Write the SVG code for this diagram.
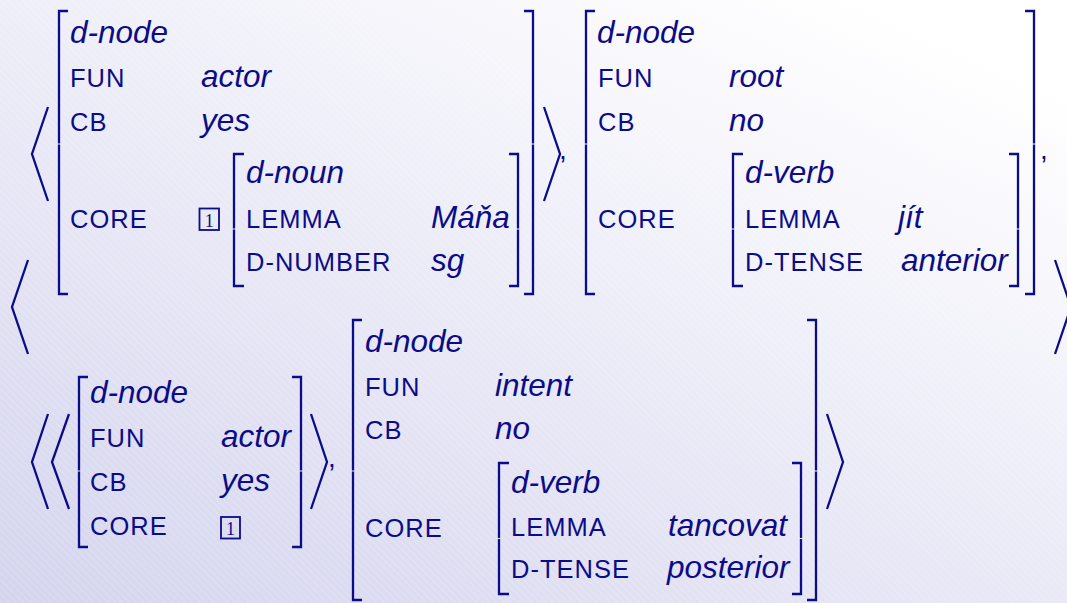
<svg xmlns="http://www.w3.org/2000/svg" width="1067" height="603" viewBox="0 0 1067 603">
  <defs>
    <linearGradient id="bg" x1="0" y1="1" x2="0.8" y2="0">
      <stop offset="0" stop-color="#d4d4ee"/>
      <stop offset="1" stop-color="#ffffff"/>
    </linearGradient>
    <pattern id="hatch" width="5" height="5" patternUnits="userSpaceOnUse" patternTransform="rotate(-45)">
      <line x1="0" y1="0" x2="0" y2="5" stroke="#ffffff" stroke-width="1" stroke-opacity="0.35"/>
    </pattern>
    <style>
      .ln { fill: none; stroke: #0c0c88; stroke-width: 2.3; stroke-linejoin: miter; }
      .val { font-family: "Liberation Sans", Arial, sans-serif; font-style: italic; font-size: 31.5px; fill: #0c0c88; }
      .att { font-family: "Liberation Sans", Arial, sans-serif; font-size: 25.5px; letter-spacing: 1px; fill: #0c0c88; }
      .cm { font-family: "Liberation Sans", Arial, sans-serif; font-size: 28px; fill: #0c0c88; }
      .tagbox { fill: none; stroke: #0c0c88; stroke-width: 1.8; }
      .tag { font-family: "Liberation Serif", "Times New Roman", serif; font-size: 18px; fill: #0c0c88; text-anchor: middle; }
    </style>
  </defs>

  <rect width="1067" height="603" fill="url(#bg)"/>
  <rect width="1067" height="603" fill="url(#hatch)"/>

  <!-- outer list delimiters -->
  <g id="outer-list">
    <path class="ln" d="M28,260 L12,307 L28,354"/>
    <path class="ln" d="M1055,260 L1071,307 L1055,354"/>
  </g>

  <!-- first pair: < [actor] >, [root] -->
  <g id="pair-1">
    <path class="ln" d="M48,107 L32,154 L48,201"/>
    <path class="ln" d="M544,107 L560,154 L544,201"/>
    <text class="cm" x="559" y="159">,</text>
    <text class="cm" x="1040" y="159">,</text>
  </g>

  <g id="node-actor">
    <path class="ln" d="M68,11 H59 V143.5 M59,144.5 V294 H68"/>
    <path class="ln" d="M524,11 H533 V143.5 M533,144.5 V294 H524"/>
    <text class="val" x="70" y="43">d-node</text>
    <text class="att" x="70" y="87">FUN</text>
    <text class="val" x="201" y="87">actor</text>
    <text class="att" x="70" y="131">CB</text>
    <text class="val" x="201" y="131">yes</text>
    <text class="att" x="70" y="228">CORE</text>
    <rect class="tagbox" x="199.5" y="208.5" width="19.5" height="21.5"/>
    <text class="tag" x="209.3" y="226.5">1</text>
  </g>

  <g id="noun-mana">
    <path class="ln" d="M244,154 H234 V228.5 M234,229.5 V286 H244"/>
    <path class="ln" d="M509,154 H518 V228.5 M518,229.5 V286 H509"/>
    <text class="val" x="246" y="183">d-noun</text>
    <text class="att" x="246" y="228">LEMMA</text>
    <text class="val" x="431" y="228">Máňa</text>
    <text class="att" x="246" y="271">D-NUMBER</text>
    <text class="val" x="431" y="271">sg</text>
  </g>

  <g id="node-root">
    <path class="ln" d="M595,11 H586 V143.5 M586,144.5 V294 H595"/>
    <path class="ln" d="M1025,11 H1034 V143.5 M1034,144.5 V294 H1025"/>
    <text class="val" x="597" y="43">d-node</text>
    <text class="att" x="598" y="87">FUN</text>
    <text class="val" x="729" y="87">root</text>
    <text class="att" x="598" y="131">CB</text>
    <text class="val" x="729" y="131">no</text>
    <text class="att" x="598" y="228">CORE</text>
  </g>

  <g id="verb-jit">
    <path class="ln" d="M743,154 H733 V228.5 M733,229.5 V286 H743"/>
    <path class="ln" d="M1009,154 H1018 V228.5 M1018,229.5 V286 H1009"/>
    <text class="val" x="745" y="183">d-verb</text>
    <text class="att" x="745" y="228">LEMMA</text>
    <text class="val" x="898" y="228">jít</text>
    <text class="att" x="745" y="271">D-TENSE</text>
    <text class="val" x="901" y="271">anterior</text>
  </g>

  <!-- second pair: << [actor] >, [intent] > -->
  <g id="pair-2">
    <path class="ln" d="M48,414 L32,462 L48,509"/>
    <path class="ln" d="M69,414 L52,462 L69,509"/>
    <path class="ln" d="M311,414 L327,462 L311,509"/>
    <text class="cm" x="328" y="467">,</text>
    <path class="ln" d="M827,414 L843,462 L827,509"/>
  </g>

  <g id="node-actor-ref">
    <path class="ln" d="M88,377 H79 V470.5 M79,471.5 V547 H88"/>
    <path class="ln" d="M292,377 H301 V470.5 M301,471.5 V547 H292"/>
    <text class="val" x="90" y="403">d-node</text>
    <text class="att" x="90" y="447">FUN</text>
    <text class="val" x="221" y="447">actor</text>
    <text class="att" x="90" y="491">CB</text>
    <text class="val" x="221" y="491">yes</text>
    <text class="att" x="90" y="535">CORE</text>
    <rect class="tagbox" x="221" y="517" width="19" height="21.5"/>
    <text class="tag" x="230.5" y="535">1</text>
  </g>

  <g id="node-intent">
    <path class="ln" d="M362,320 H353 V470.5 M353,471.5 V600 H362"/>
    <path class="ln" d="M807,320 H816 V470.5 M816,471.5 V600 H807"/>
    <text class="val" x="365" y="352">d-node</text>
    <text class="att" x="365" y="396">FUN</text>
    <text class="val" x="495" y="396">intent</text>
    <text class="att" x="365" y="439">CB</text>
    <text class="val" x="495" y="439">no</text>
    <text class="att" x="365" y="537">CORE</text>
  </g>

  <g id="verb-tancovat">
    <path class="ln" d="M509,463 H499 V538 M499,539 V594 H509"/>
    <path class="ln" d="M792,463 H801 V538 M801,539 V594 H792"/>
    <text class="val" x="511" y="493">d-verb</text>
    <text class="att" x="511" y="536">LEMMA</text>
    <text class="val" x="668" y="536">tancovat</text>
    <text class="att" x="511" y="578">D-TENSE</text>
    <text class="val" x="667" y="578">posterior</text>
  </g>
</svg>
